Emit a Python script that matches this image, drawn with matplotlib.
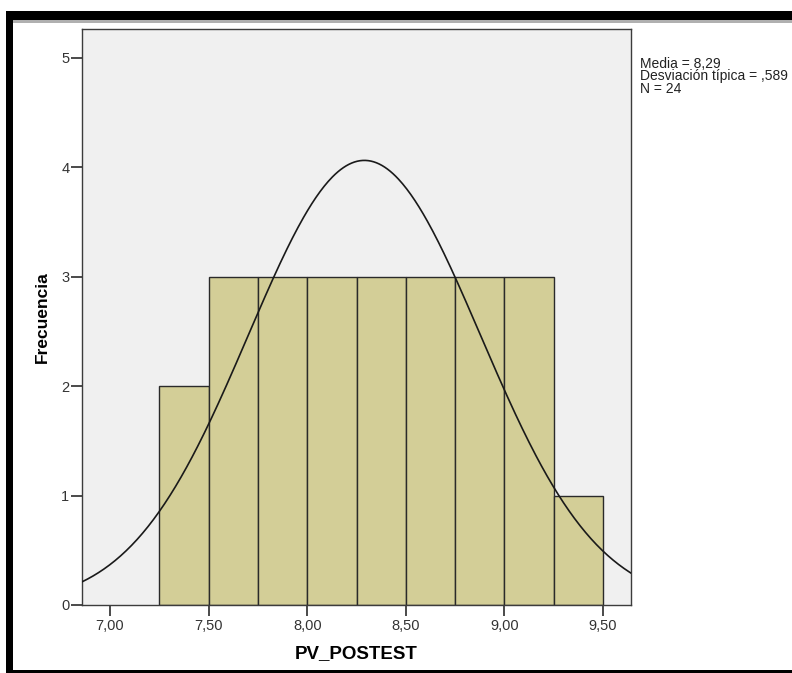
import numpy as np
import matplotlib.pyplot as plt
from matplotlib.patches import Rectangle

plt.rcParams['font.family'] = ['Liberation Sans', 'DejaVu Sans']

# histogram data
bin_edges = [7.25, 7.50, 7.75, 8.00, 8.25, 8.50, 8.75, 9.00, 9.25, 9.50]
counts = [2, 3, 3, 3, 3, 3, 3, 3, 1]
media = 8.29
desv = 0.589
n = 24
x_ticks = [7.0, 7.5, 8.0, 8.5, 9.0, 9.5]
x_labels = ["7,00", "7,50", "8,00", "8,50", "9,00", "9,50"]
y_ticks = [0, 1, 2, 3, 4, 5]

W, H = 792, 673
fig = plt.figure(figsize=(W / 100, H / 100), dpi=100)
ax = fig.add_axes([82 / W, 1 - 605 / H, (631 - 82) / W, (605 - 29) / H])
ax.set_facecolor("#F0F0F0")

widths = np.diff(bin_edges)
ax.bar(bin_edges[:-1], counts, width=widths, align="edge",
       color="#D3CE97", edgecolor="#2a2a2a", linewidth=1.0, zorder=2)

# normal curve scaled to counts
bw = widths[0]
xs = np.linspace(6.858, 9.642, 400)
ys = n * bw * np.exp(-0.5 * ((xs - media) / desv) ** 2) / (desv * np.sqrt(2 * np.pi))
ax.plot(xs, ys, color="#1a1a1a", linewidth=1.2, zorder=3)

ax.set_xlim(6.858, 9.642)
ax.set_ylim(0, 5.265)
ax.set_xticks(x_ticks)
ax.set_xticklabels(x_labels)
ax.set_yticks(y_ticks)
for s in ax.spines.values():
    s.set_color("#3c3c3c")
    s.set_linewidth(1.0)
ax.tick_params(axis="x", length=8, width=1.3, color="#3c3c3c",
               labelsize=10.5, labelcolor="#333333", pad=2)
ax.tick_params(axis="y", length=8, width=1.3, color="#3c3c3c",
               labelsize=10.5, labelcolor="#333333", pad=1)

ax.set_xlabel("PV_POSTEST", fontsize=13.5, fontweight="bold", labelpad=9)
ax.set_ylabel("Frecuencia", fontsize=12.5, fontweight="bold", labelpad=8)

media_txt = f"{media:.2f}".replace(".", ",")
desv_txt = f"{desv:.3f}".lstrip("0").replace(".", ",")
fig.text(640 / W, 1 - 57 / H,
         f"Media = {media_txt}\nDesviación típica = {desv_txt}\nN = {n}",
         fontsize=10, color="#222222", va="top", ha="left", linespacing=0.85)

# window frame
fig.add_artist(Rectangle((6 / W, 1 - 20 / H), 1, 9 / H, transform=fig.transFigure,
                         color="black", lw=0))
fig.add_artist(Rectangle((13 / W, 1 - 23 / H), 1, 3 / H, transform=fig.transFigure,
                         color="#b0b0b0", lw=0))
fig.add_artist(Rectangle((6 / W, 0), 7 / W, 1 - 11 / H, transform=fig.transFigure,
                         color="black", lw=0))
fig.add_artist(Rectangle((6 / W, 0), 1, 3 / H, transform=fig.transFigure,
                         color="black", lw=0))

fig.savefig("out.png", dpi=100)
